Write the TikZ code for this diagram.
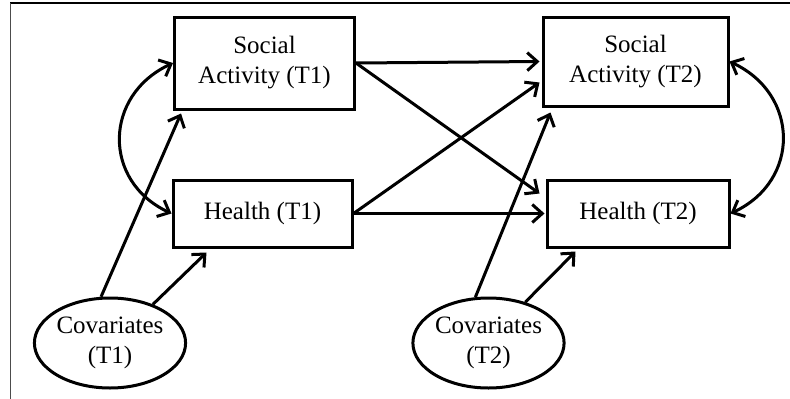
\documentclass[tikz,border=0pt]{standalone}
\usepackage{fontspec}
\setmainfont{Liberation Serif}
\usetikzlibrary{arrows.meta,shapes.geometric}
\begin{document}
\begin{tikzpicture}[x=1pt,y=-1pt,
  box/.style={draw,line width=3pt,align=center,inner sep=0pt,font=\fontsize{25}{30}\selectfont},
  oval/.style={draw,ellipse,line width=3pt,align=center,inner sep=0pt,font=\fontsize{25}{30}\selectfont},
  conn/.style={line width=3pt,-{Straight Barb[length=10pt,width=18pt,line width=3pt]}},
  dconn/.style={line width=3pt,{Straight Barb[length=10pt,width=18pt,line width=3pt]}-{Straight Barb[length=10pt,width=18pt,line width=3pt]}}]
\useasboundingbox (0,0) rectangle (790,399);
\coordinate (fa) at (10,3);
\coordinate (fb) at (790,3);
\coordinate (fc) at (10,399);
\draw[line width=2.4pt] (fa) -- (fb);
\draw[line width=1pt,black!70] (fa) -- (fc);
\node[box,minimum width=180pt,minimum height=92pt] (SA1) at (264.5,63) {Social\\Activity (T1)};
\node[box,minimum width=185pt,minimum height=89pt] (SA2) at (635.5,61.5) {Social\\Activity (T2)};
\node[box,minimum width=179pt,minimum height=67pt] (H1) at (262.5,213.5) {Health (T1)};
\node[box,minimum width=182pt,minimum height=67pt] (H2) at (638,213.5) {Health (T2)};
\node[oval,minimum width=150pt,minimum height=90pt] (C1) at (110,343) {Covariates\\(T1)};
\node[oval,minimum width=151pt,minimum height=90pt] (C2) at (488.5,343) {Covariates\\(T2)};
% paths
\draw[conn] (SA1.east) -- ([xshift=-2pt]SA2.west);
\draw[conn] (SA1.east) -- ([xshift=-6pt,yshift=20pt]H2.west);
\draw[conn] (H1.east) -- ([xshift=-2pt,yshift=-21pt]SA2.west);
\draw[conn] (H1.east) -- ([xshift=-1pt]H2.west);
\draw[conn] (C1.101) -- ([xshift=8pt,yshift=-3pt]SA1.south west);
\draw[conn] (C1.42) -- ([xshift=35pt,yshift=-4pt]H1.south west);
\draw[conn] (C2.106) -- ([xshift=9pt,yshift=-5pt]SA2.south west);
\draw[conn] (C2.48) -- ([xshift=30pt,yshift=-3pt]H2.south west);
\draw[dconn] (SA1.west) to[out=205,in=155,looseness=1.3] (H1.west);
\draw[dconn] (SA2.east) to[out=-25,in=25,looseness=1.3] (H2.east);
\end{tikzpicture}
\end{document}
